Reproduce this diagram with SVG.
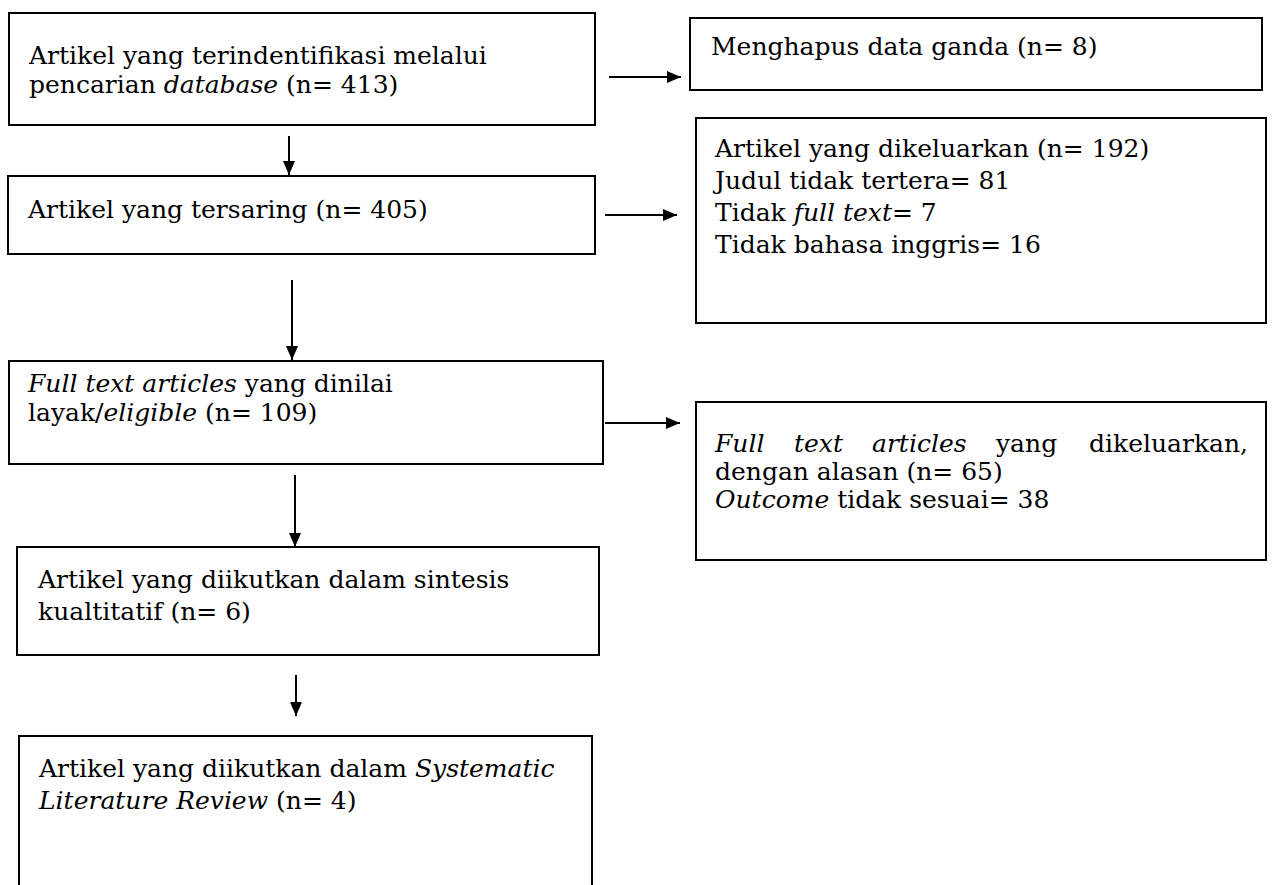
<svg xmlns="http://www.w3.org/2000/svg" width="1275" height="885" viewBox="0 0 1275 885">
<style>
.box{fill:#fff;stroke:#000;stroke-width:2}
.t{font-family:"DejaVu Serif","Liberation Serif",serif;font-size:25px;fill:#000}
.i{font-style:italic}
.c{stroke:#000;stroke-width:2;fill:none}
</style>
<defs>
<marker id="ah" markerWidth="14" markerHeight="12" refX="14" refY="6" orient="auto" markerUnits="userSpaceOnUse" viewBox="0 0 14 12">
<path d="M0,0 L14,6 L0,12 z" fill="#000"/>
</marker>
</defs>
<g id="connectors">
<line class="c" x1="609" y1="77" x2="681" y2="77" marker-end="url(#ah)"/>
<line class="c" x1="289" y1="136" x2="289" y2="175" marker-end="url(#ah)"/>
<line class="c" x1="605" y1="215" x2="677" y2="215" marker-end="url(#ah)"/>
<line class="c" x1="292" y1="280" x2="292" y2="360" marker-end="url(#ah)"/>
<line class="c" x1="605" y1="423" x2="680" y2="423" marker-end="url(#ah)"/>
<line class="c" x1="295" y1="475" x2="295" y2="547" marker-end="url(#ah)"/>
<line class="c" x1="296" y1="675" x2="296" y2="716" marker-end="url(#ah)"/>
</g>
<g id="n1">
<rect class="box" x="9" y="13" width="586" height="112"/>
<text class="t" x="29" y="64">Artikel yang terindentifikasi melalui</text>
<text class="t" x="29" y="93">pencarian <tspan class="i">database</tspan> (n= 413)</text>
</g>
<g id="n2">
<rect class="box" x="690" y="18" width="572" height="72"/>
<text class="t" x="711" y="55">Menghapus data ganda (n= 8)</text>
</g>
<g id="n3">
<rect class="box" x="8" y="176" width="587" height="78"/>
<text class="t" x="28" y="218">Artikel yang tersaring (n= 405)</text>
</g>
<g id="n4">
<rect class="box" x="696" y="118" width="570" height="205"/>
<text class="t" x="715" y="157">Artikel yang dikeluarkan (n= 192)</text>
<text class="t" x="715" y="189">Judul tidak tertera= 81</text>
<text class="t" x="715" y="221">Tidak <tspan class="i">full text</tspan>= 7</text>
<text class="t" x="715" y="253">Tidak bahasa inggris= 16</text>
</g>
<g id="n5">
<rect class="box" x="9" y="361" width="594" height="103"/>
<text class="t" x="28" y="392"><tspan class="i">Full text articles</tspan> yang dinilai</text>
<text class="t" x="28" y="421">layak/<tspan class="i">eligible</tspan> (n= 109)</text>
</g>
<g id="n6">
<rect class="box" x="696" y="402" width="570" height="158"/>
<text class="t" y="452"><tspan class="i" x="715">Full</tspan><tspan class="i" x="794">text</tspan><tspan class="i" x="872">articles</tspan><tspan x="996">yang</tspan></text>
<text class="t" x="1248" y="452" text-anchor="end">dikeluarkan,</text>
<text class="t" x="715" y="480">dengan alasan (n= 65)</text>
<text class="t" x="715" y="508"><tspan class="i">Outcome</tspan> tidak sesuai= 38</text>
</g>
<g id="n7">
<rect class="box" x="17" y="547" width="582" height="108"/>
<text class="t" x="38" y="588">Artikel yang diikutkan dalam sintesis</text>
<text class="t" x="38" y="620">kualtitatif (n= 6)</text>
</g>
<g id="n8">
<rect class="box" x="19" y="736" width="573" height="160"/>
<text class="t" x="39" y="777">Artikel yang diikutkan dalam <tspan class="i">Systematic</tspan></text>
<text class="t" x="39" y="809"><tspan class="i">Literature Review</tspan> (n= 4)</text>
</g>
</svg>
